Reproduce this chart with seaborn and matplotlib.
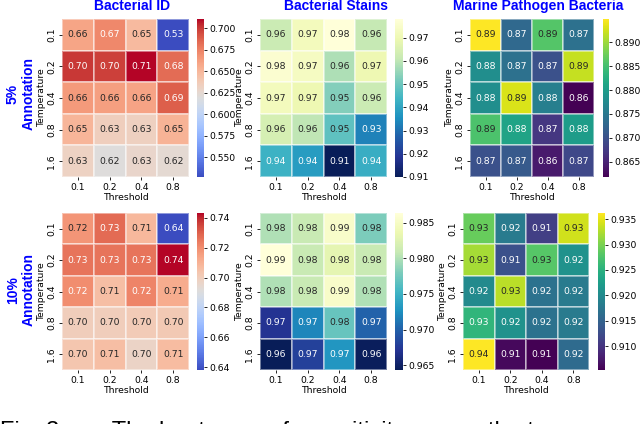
import matplotlib
matplotlib.use("Agg")
import matplotlib.pyplot as plt
import numpy as np
import pandas as pd
import seaborn as sns

thresholds = ["0.1", "0.2", "0.4", "0.8"]
temperatures = ["0.1", "0.2", "0.4", "0.8", "1.6"]
datasets = ["Bacterial ID", "Bacterial Stains", "Marine Pathogen Bacteria"]
row_labels = ["5%\nAnnotation", "10%\nAnnotation"]
caption = "Fig. 3.       The heatmaps of  sensitivity across the two parameters"

bacterial_id_5 = [
    [0.659, 0.672, 0.648, 0.527],
    [0.700, 0.698, 0.7105, 0.683],
    [0.664, 0.662, 0.660, 0.688],
    [0.651, 0.634, 0.633, 0.652],
    [0.631, 0.620, 0.628, 0.624],
]
bacterial_stains_5 = [
    [0.962, 0.972, 0.978, 0.961],
    [0.976, 0.973, 0.958, 0.970],
    [0.972, 0.970, 0.953, 0.962],
    [0.964, 0.960, 0.948, 0.933],
    [0.943, 0.938, 0.910, 0.942],
]
marine_5 = [
    [0.8949, 0.873, 0.886, 0.874],
    [0.878, 0.874, 0.870, 0.892],
    [0.878, 0.893, 0.876, 0.8618],
    [0.8855, 0.881, 0.867, 0.880],
    [0.870, 0.871, 0.864, 0.869],
]
bacterial_id_10 = [
    [0.718, 0.728, 0.708, 0.638],
    [0.726, 0.726, 0.726, 0.7433],
    [0.720, 0.706, 0.722, 0.712],
    [0.700, 0.700, 0.701, 0.702],
    [0.703, 0.706, 0.697, 0.707],
]
bacterial_stains_10 = [
    [0.980, 0.981, 0.9853, 0.978],
    [0.9864, 0.981, 0.983, 0.981],
    [0.980, 0.981, 0.9852, 0.980],
    [0.967, 0.972, 0.977, 0.970],
    [0.9643, 0.968, 0.973, 0.9645],
]
marine_10 = [
    [0.929, 0.918, 0.911, 0.934],
    [0.932, 0.913, 0.928, 0.921],
    [0.920, 0.933, 0.917, 0.918],
    [0.9255, 0.921, 0.917, 0.918],
    [0.9362, 0.906, 0.9053, 0.916],
]

grid = [
    [bacterial_id_5, bacterial_stains_5, marine_5],
    [bacterial_id_10, bacterial_stains_10, marine_10],
]
cmaps = ["coolwarm", "YlGnBu_r", "viridis"]

W, H = 640, 424
fig = plt.figure(figsize=(W / 100, H / 100), dpi=100)

# pixel boxes (left, right) per row/col, (top, bottom) per row
rows_tb = [(19, 177), (213, 370)]
heat_lr = [[(62, 189), (260, 387), (470, 594)],
           [(62, 189), (260, 387), (463, 589)]]
cbar_lr = [[(197, 204), (395, 403), (603, 609)],
           [(197, 204), (395, 403), (598, 605)]]


def box(lr, tb):
    l, r = lr
    t, b = tb
    return [l / W, 1 - b / H, (r - l) / W, (b - t) / H]


fs = 6.7
for i in range(2):
    for j in range(3):
        ax = fig.add_axes(box(heat_lr[i][j], rows_tb[i]))
        cax = fig.add_axes(box(cbar_lr[i][j], rows_tb[i]))
        df = pd.DataFrame(grid[i][j], index=temperatures, columns=thresholds)
        sns.heatmap(df, ax=ax, cbar_ax=cax, cmap=cmaps[j], annot=True, fmt=".2f",
                    annot_kws={"size": fs}, linewidths=0.3, linecolor="#ffffff70")
        ax.set_xlabel("Threshold", fontsize=fs, labelpad=1)
        ax.set_ylabel("Temperature", fontsize=fs, labelpad=1)
        ax.set_yticklabels(temperatures, rotation=90, va="center")
        ax.set_xticklabels(thresholds, rotation=0)
        ax.tick_params(axis="both", labelsize=fs, length=2.5, width=0.6, pad=1.5)
        cax.tick_params(labelsize=fs, length=2.5, width=0.6, pad=1.5)

title_x = [132, 335.5, 538]
for j, name in enumerate(datasets):
    fig.text(title_x[j] / W, 1 - 6 / H, name, ha="center", va="center",
             fontsize=10, fontweight="bold", color="blue", family="Liberation Sans")

label_y = [94, 290]
for i, lab in enumerate(row_labels):
    fig.text(21 / W, 1 - label_y[i] / H, lab, rotation=90, ha="center", va="center",
             multialignment="center", fontsize=10, fontweight="bold", color="blue",
             family="Liberation Sans")

fig.text(0, (H - 438) / H, caption, ha="left", va="baseline", fontsize=17,
         family="Liberation Sans", color="black")

fig.savefig("out.png", dpi=100)
